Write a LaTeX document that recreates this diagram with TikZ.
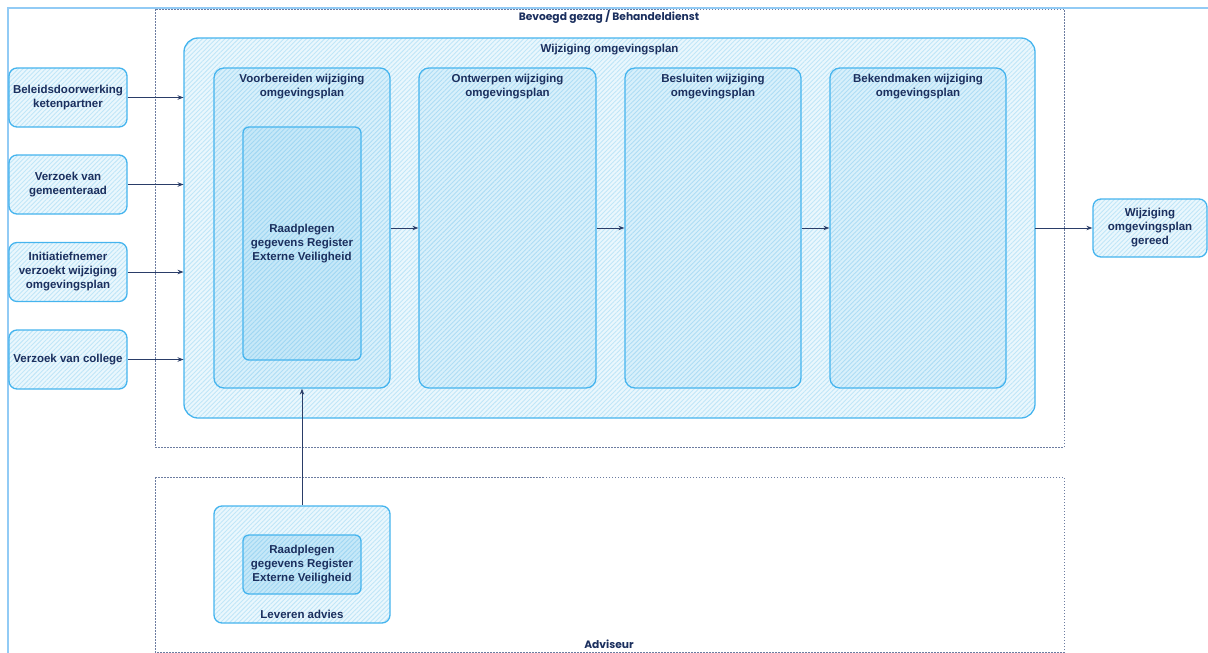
\documentclass[tikz,border=0pt]{standalone}
\usepackage{fontspec}
\setmainfont{Liberation Sans}
\newfontfamily\lanefont{Poppins}
\usetikzlibrary{patterns.meta,arrows.meta}

\definecolor{ink}{HTML}{1B2F5E}
\definecolor{wire}{HTML}{2A3D68}
\definecolor{edge}{HTML}{45B4EE}
\definecolor{frameblue}{HTML}{92CBF5}
\definecolor{lanegray}{HTML}{6C7CA0}
\definecolor{fillA}{HTML}{EAF7FD}
\definecolor{hatchA}{HTML}{C0E6F8}
\definecolor{fillB}{HTML}{D8F0FB}
\definecolor{hatchB}{HTML}{AEDDF5}
\definecolor{fillC}{HTML}{C6E8F8}
\definecolor{hatchC}{HTML}{A0D7F3}

\tikzset{
  x=1pt, y=-1pt,
  txt/.style={font=\bfseries\fontsize{11.5}{14}\selectfont, text=ink, align=center},
  shaded/.style 2 args={preaction={fill=#1}, pattern={Lines[angle=45,distance=3.2pt,line width=0.9pt]}, pattern color=#2},
  boxbase/.style={draw=edge, line width=1.3pt, inner sep=0pt, rounded corners=8pt},
  sidebox/.style={boxbase, shaded={fillA}{hatchA}, minimum width=118pt, minimum height=59pt, txt},
  planbox/.style={boxbase, rounded corners=14pt, shaded={fillA}{hatchA}},
  phasebox/.style={boxbase, rounded corners=10pt, shaded={fillB}{hatchB}, minimum height=320pt},
  corebox/.style={boxbase, rounded corners=6pt, shaded={fillC}{hatchC}, minimum width=118pt, txt},
  lane/.style={draw=lanegray, line width=0.8pt, dash pattern=on 1.5pt off 1.5pt},
  lanelabel/.style={font=\lanefont\bfseries\fontsize{10.7}{12}\selectfont, text=ink},
  flow/.style={draw=wire, line width=0.9pt, -{Stealth[length=6pt,width=4.5pt]}},
}

\begin{document}
\begin{tikzpicture}
\useasboundingbox (0,0) rectangle (1208,653);

% outer frame
\draw[frameblue, line width=2pt] (8,653) -- (8,8) -- (1208,8);

% swimlanes
\draw[lane] (155,9) rectangle (1064,447);
\node[lanelabel] (lanetop) at (609,17) {Bevoegd gezag / Behandeldienst};
\draw[lane] (155,477) rectangle (1064,652);
\node[lanelabel] (lanebottom) at (609,644) {Adviseur};

% main process container
\node[planbox, minimum width=851pt, minimum height=380pt] (plan) at (609.5,228) {};
\node[txt, anchor=north] (plantitle) at (609.5,41) {Wijziging omgevingsplan};

% phases
\node[phasebox, minimum width=176pt] (voor) at (302,228) {};
\node[txt, anchor=north] (voortitle) at (302,71) {Voorbereiden wijziging\\omgevingsplan};
\node[corebox, minimum height=233pt] (raad) at (302,243.5) {Raadplegen\\gegevens Register\\Externe Veiligheid};

\node[phasebox, minimum width=177pt] (ontw) at (507.5,228) {};
\node[txt, anchor=north] (ontwtitle) at (507.5,71) {Ontwerpen wijziging\\omgevingsplan};

\node[phasebox, minimum width=176pt] (besl) at (713,228) {};
\node[txt, anchor=north] (besltitle) at (713,71) {Besluiten wijziging\\omgevingsplan};

\node[phasebox, minimum width=176pt] (bek) at (918,228) {};
\node[txt, anchor=north] (bektitle) at (918,71) {Bekendmaken wijziging\\omgevingsplan};

% triggers
\node[sidebox] (beleid) at (68,97.5) {Beleidsdoorwerking\\ketenpartner};
\node[sidebox] (raadsverzoek) at (68,184.5) {Verzoek van\\gemeenteraad};
\node[sidebox] (initiatief) at (68,272) {Initiatiefnemer\\verzoekt wijziging\\omgevingsplan};
\node[sidebox] (college) at (68,359.5) {Verzoek van college};

% result
\node[sidebox, minimum width=114pt, minimum height=58pt] (gereed) at (1150,228) {Wijziging\\omgevingsplan\\gereed};

% advice
\node[boxbase, rounded corners=8pt, shaded={fillA}{hatchA}, minimum width=176pt, minimum height=117pt] (leveren) at (302,564.5) {};
\node[corebox, minimum height=59pt] (raadadvies) at (302,564.5) {Raadplegen\\gegevens Register\\Externe Veiligheid};
\node[txt, anchor=base] (leverentitle) at (302,618) {Leveren advies};

% connectors
\draw[flow] (beleid.east) -- (beleid.east -| plan.west);
\draw[flow] (raadsverzoek.east) -- (raadsverzoek.east -| plan.west);
\draw[flow] (initiatief.east) -- (initiatief.east -| plan.west);
\draw[flow] (college.east) -- (college.east -| plan.west);
\draw[flow] (voor.east) -- (ontw.west);
\draw[flow] (ontw.east) -- (besl.west);
\draw[flow] (besl.east) -- (bek.west);
\draw[flow] (plan.east) -- (gereed.west);
\draw[flow] (leveren.north) -- (voor.south);
\end{tikzpicture}
\end{document}
